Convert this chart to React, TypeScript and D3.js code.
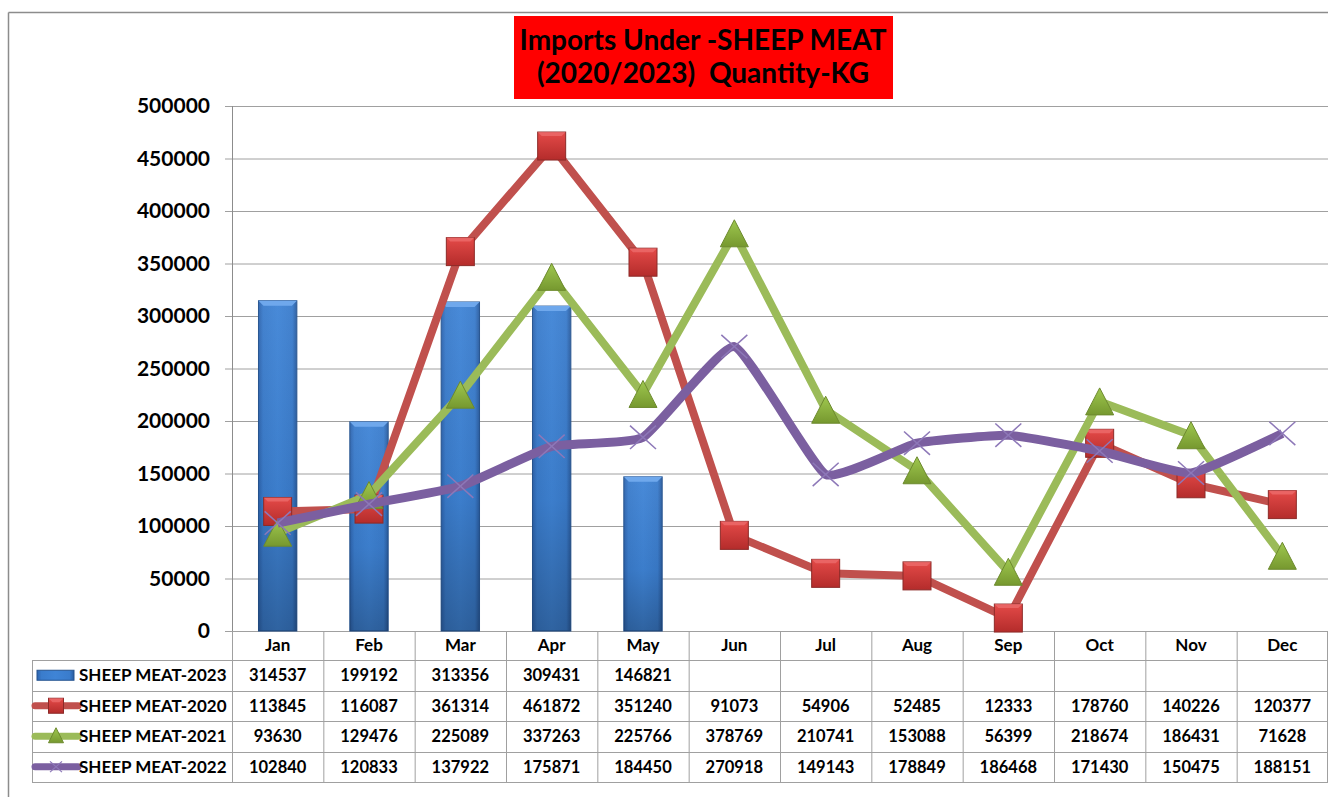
import React from 'react';
import * as d3 from 'd3';

const months = ['Jan', 'Feb', 'Mar', 'Apr', 'May', 'Jun', 'Jul', 'Aug', 'Sep', 'Oct', 'Nov', 'Dec'];
const sheep2023 = [314537, 199192, 313356, 309431, 146821];
const sheep2020 = [113845, 116087, 361314, 461872, 351240, 91073, 54906, 52485, 12333, 178760, 140226, 120377];
const sheep2021 = [93630, 129476, 225089, 337263, 225766, 378769, 210741, 153088, 56399, 218674, 186431, 71628];
const sheep2022 = [102840, 120833, 137922, 175871, 184450, 270918, 149143, 178849, 186468, 171430, 150475, 188151];
const yTicks = [0, 50000, 100000, 150000, 200000, 250000, 300000, 350000, 400000, 450000, 500000];
const seriesNames = ['SHEEP MEAT-2023', 'SHEEP MEAT-2020', 'SHEEP MEAT-2021', 'SHEEP MEAT-2022'];
const titleLines = ['Imports Under -SHEEP MEAT', '(2020/2023)  Quantity-KG'];

const FONT = 'Lato, "Open Sans", sans-serif';
const W = 1328;
const H = 797;
const plotLeft = 232;
const plotRight = 1328;
const plotTop = 106;
const plotBottom = 631;
const tableLeft = 32;
const headerBottom = 660;
const rowH = 30.5;

export default function App() {
  const x = d3.scaleBand<string>().domain(months).range([plotLeft, plotRight]).padding(0);
  const y = d3.scaleLinear().domain([0, 500000]).range([plotBottom, plotTop]);
  const cx = (m: string) => (x(m) as number) + x.bandwidth() / 2;
  const barW = x.bandwidth() * 0.42;

  const lineStraight = d3
    .line<number>()
    .x((_, i) => cx(months[i]))
    .y((d) => y(d));
  const lineSmooth = d3
    .line<number>()
    .x((_, i) => cx(months[i]))
    .y((d) => y(d))
    .curve(d3.curveCardinal.tension(0.6));

  const rowValues: (number | null)[][] = [
    months.map((_, i) => (i < sheep2023.length ? sheep2023[i] : null)),
    sheep2020,
    sheep2021,
    sheep2022,
  ];

  const sq = 28;
  const triW = 28;
  const triH = 27;
  const xs = 13;

  const square = (px: number, py: number, s: number, key: string) => (
    <g key={key}>
      <rect x={px - s / 2} y={py - s / 2} width={s} height={s} fill="url(#redGrad)" stroke="#8c2a28" strokeWidth={1} />
      <polygon
        points={`${px - s / 2},${py - s / 2} ${px + s / 2},${py - s / 2} ${px + s / 2 - 4},${py - s / 2 + 4} ${px - s / 2 + 4},${py - s / 2 + 4}`}
        fill="#ee7070"
        opacity={0.7}
      />
    </g>
  );
  const triangle = (px: number, py: number, w: number, h: number, key: string) => (
    <polygon
      key={key}
      points={`${px},${py - h / 2} ${px + w / 2},${py + h / 2} ${px - w / 2},${py + h / 2}`}
      fill="url(#greenGrad)"
      stroke="#6d8a2e"
      strokeWidth={1}
    />
  );
  const cross = (px: number, py: number, s: number, key: string, sw = 1.5) => (
    <g key={key} stroke="#8d78b8" strokeWidth={sw}>
      <line x1={px - s} y1={py - s * 0.9} x2={px + s} y2={py + s * 0.9} />
      <line x1={px - s} y1={py + s * 0.9} x2={px + s} y2={py - s * 0.9} />
    </g>
  );

  return (
    <svg
      width={W}
      height={H}
      style={{ position: 'absolute', left: 0, top: 0, background: '#fff' }}
      fontFamily={FONT}
    >
      <defs>
        <linearGradient id="barGrad" x1="0" y1="0" x2="1" y2="0">
          <stop offset="0" stopColor="#2d63ad" />
          <stop offset="0.12" stopColor="#3a7ccc" />
          <stop offset="0.5" stopColor="#3f84d6" />
          <stop offset="0.88" stopColor="#3a7ccc" />
          <stop offset="1" stopColor="#2a5c9f" />
        </linearGradient>
        <linearGradient id="barShade" x1="0" y1="0" x2="0" y2="1">
          <stop offset="0" stopColor="#ffffff" stopOpacity={0.05} />
          <stop offset="0.6" stopColor="#000000" stopOpacity={0.05} />
          <stop offset="1" stopColor="#000000" stopOpacity={0.25} />
        </linearGradient>
        <linearGradient id="redGrad" x1="0" y1="0" x2="0" y2="1">
          <stop offset="0" stopColor="#e44a48" />
          <stop offset="1" stopColor="#b42c2b" />
        </linearGradient>
        <linearGradient id="greenGrad" x1="0" y1="0" x2="0" y2="1">
          <stop offset="0" stopColor="#9fc84f" />
          <stop offset="1" stopColor="#76982f" />
        </linearGradient>
      </defs>

      {/* outer frame */}
      <line x1={8.5} y1={12.5} x2={W} y2={12.5} stroke="#8c8c8c" strokeWidth={1.5} />
      <line x1={8.5} y1={12.5} x2={8.5} y2={H} stroke="#8c8c8c" strokeWidth={1.5} />

      {/* title */}
      <rect x={514} y={16} width={379} height={83} fill="#ff0000" />
      {titleLines.map((t, i) => (
        <text
          key={t}
          x={703}
          y={50 + i * 33}
          textAnchor="middle"
          fontSize={28}
          fontWeight="bold"
          fill="#000"
          style={{ whiteSpace: 'pre' }}
        >
          {t}
        </text>
      ))}

      {/* gridlines & y axis */}
      {yTicks.map((t) => (
        <g key={t}>
          <line x1={225} x2={plotRight} y1={y(t) + 0.5} y2={y(t) + 0.5} stroke="#a0a0a0" strokeWidth={1} />
          <text x={210} y={y(t) + 7} textAnchor="end" fontSize={21} fontWeight="bold" fill="#000">
            {t}
          </text>
        </g>
      ))}
      <line x1={plotLeft + 0.5} x2={plotLeft + 0.5} y1={plotTop} y2={plotBottom} stroke="#8c8c8c" />

      {/* bars */}
      {sheep2023.map((v, i) => {
        const bx = cx(months[i]) - barW / 2;
        const by = y(v);
        const bh = plotBottom - by;
        return (
          <g key={'bar' + i}>
            <rect x={bx} y={by} width={barW} height={bh} fill="url(#barGrad)" stroke="#25538f" strokeWidth={1} />
            <rect x={bx} y={by} width={barW} height={bh} fill="url(#barShade)" />
            <polygon
              points={`${bx},${by} ${bx + barW},${by} ${bx + barW - 5},${by + 5} ${bx + 5},${by + 5}`}
              fill="#6fa8ec"
            />
          </g>
        );
      })}

      {/* lines */}
      <path d={lineStraight(sheep2020) || ''} fill="none" stroke="#c0504d" strokeWidth={8} strokeLinejoin="round" />
      {sheep2020.map((v, i) => square(cx(months[i]), y(v), sq, 'sq' + i))}

      <path d={lineStraight(sheep2021) || ''} fill="none" stroke="#9bbb59" strokeWidth={8} strokeLinejoin="round" />
      {sheep2021.map((v, i) => triangle(cx(months[i]), y(v), triW, triH, 'tr' + i))}

      <path d={lineSmooth(sheep2022) || ''} fill="none" stroke="#7b5fa0" strokeWidth={9} strokeLinejoin="round" />
      {sheep2022.map((v, i) => cross(cx(months[i]), y(v), xs, 'x' + i))}

      {/* data table */}
      {months.map((m) => (
        <text key={'m' + m} x={cx(m)} y={651} textAnchor="middle" fontSize={17} fontWeight="bold" fill="#000">
          {m}
        </text>
      ))}
      {d3.range(13).map((i) => {
        const lx = plotLeft + i * x.step();
        return (
          <line
            key={'vl' + i}
            x1={Math.min(lx, W - 1) + 0.5}
            x2={Math.min(lx, W - 1) + 0.5}
            y1={plotBottom}
            y2={headerBottom + rowH * 4}
            stroke="#a0a0a0"
          />
        );
      })}
      <line x1={tableLeft + 0.5} x2={tableLeft + 0.5} y1={headerBottom} y2={headerBottom + rowH * 4} stroke="#a0a0a0" />
      {d3.range(5).map((r) => (
        <line
          key={'hl' + r}
          x1={tableLeft}
          x2={plotRight}
          y1={Math.round(headerBottom + r * rowH) + 0.5}
          y2={Math.round(headerBottom + r * rowH) + 0.5}
          stroke="#a0a0a0"
        />
      ))}
      {seriesNames.map((name, r) => {
        const ry = headerBottom + r * rowH + rowH / 2;
        return (
          <g key={name}>
            {r === 0 && <rect x={37} y={ry - 5} width={37} height={10} fill="url(#barGrad)" stroke="#25538f" />}
            {r === 1 && (
              <g>
                <line x1={35} x2={78} y1={ry} y2={ry} stroke="#c0504d" strokeWidth={7} strokeLinecap="round" />
                {square(56, ry, 15, 'lsq')}
              </g>
            )}
            {r === 2 && (
              <g>
                <line x1={35} x2={78} y1={ry} y2={ry} stroke="#9bbb59" strokeWidth={7} strokeLinecap="round" />
                {triangle(56, ry - 1, 15, 15, 'ltr')}
              </g>
            )}
            {r === 3 && (
              <g>
                <line x1={35} x2={78} y1={ry} y2={ry} stroke="#7b5fa0" strokeWidth={7} strokeLinecap="round" />
                {cross(56, ry, 6, 'lx', 1.2)}
              </g>
            )}
            <text x={79} y={ry + 6} fontSize={17} fontWeight="bold" fill="#000">
              {name}
            </text>
            {rowValues[r].map((v, i) =>
              v === null ? null : (
                <text key={i} x={cx(months[i])} y={ry + 6} textAnchor="middle" fontSize={16.5} fontWeight="bold" fill="#000">
                  {v}
                </text>
              )
            )}
          </g>
        );
      })}
    </svg>
  );
}
